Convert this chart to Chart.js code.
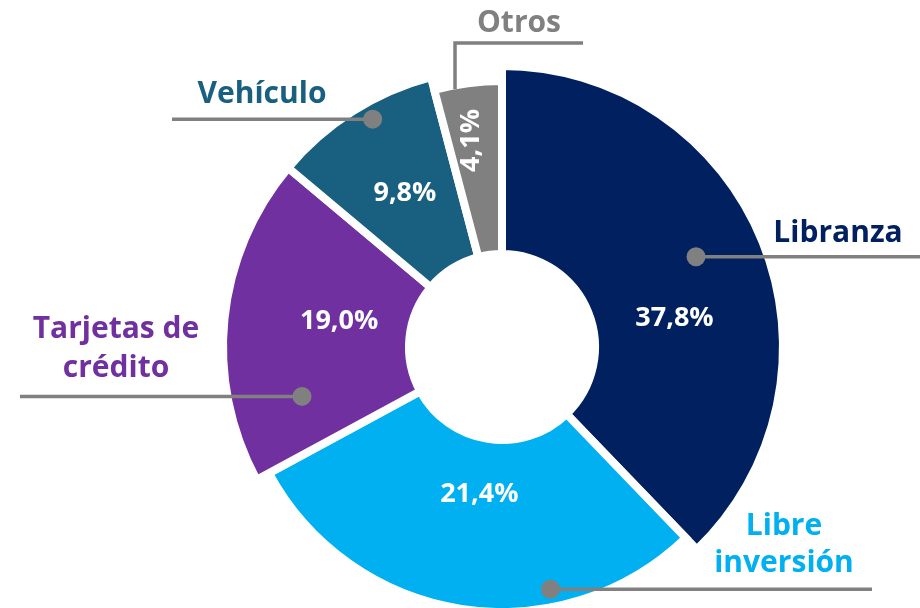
<!DOCTYPE html>
<html lang="es">
<head>
<meta charset="utf-8">
<title>Cartera por modalidad</title>
<script src="https://cdn.jsdelivr.net/npm/chart.js@4.4.1/dist/chart.umd.min.js"></script>
<style>
  html, body { margin: 0; padding: 0; background: #fff; overflow: hidden; }
  #contenedor { position: relative; width: 920px; height: 608px; }
</style>
</head>
<body>
<div id="contenedor"><canvas id="grafico"></canvas></div>
<script>
// datos del gráfico
const categorias = ["Libranza", "Libre inversión", "Tarjetas de crédito", "Vehículo", "Otros"];
const valores = [37.8, 29.3, 19.0, 9.8, 4.1];
const etiquetasPct = ["37,8%", "21,4%", "19,0%", "9,8%", "4,1%"];
const colores = ["#002060", "#00B0F0", "#7030A0", "#185F80", "#808080"];

// estilo: radio exterior de cada porción y lugar de los porcentajes (fracción del ángulo, radio)
const radioExterior = [281, 265, 279, 279, 266];
const posPct = [[0.59, 175], [0.5, 148], [0.55, 165], [0.51, 183], [0.4, 209]];

// llamadas con línea guía
const llamadas = [
  { ancla: [0.478, 214], finX: 920, lineas: ["Libranza"], x: 838, y: [242] },
  { ancla: [0.309, 247], finX: 872, lineas: ["Libre", "inversión"], x: 784, y: [535, 572] },
  { ancla: [0.213, 206], finX: 20, lineas: ["Tarjetas de", "crédito"], x: 116, y: [338, 377] },
  { ancla: [0.58, 262], finX: 172, lineas: ["Vehículo"], x: 262, y: [103] },
  { ancla: [0.30, 262], finX: 583, codoY: 43, sinPunto: true, lineas: ["Otros"], x: 519, y: [32] }
];

const GRIS = "#808080";

function polar(arc, frac, r) {
  const a = arc.startAngle + frac * (arc.endAngle - arc.startAngle);
  return { x: arc.x + r * Math.cos(a), y: arc.y + r * Math.sin(a) };
}

const ajusteRadios = {
  id: "ajusteRadios",
  afterDatasetUpdate(chart, args) {
    args.meta.data.forEach((arc, i) => { arc.outerRadius = radioExterior[i]; });
  }
};

const rotulos = {
  id: "rotulos",
  afterDraw(chart) {
    const ctx = chart.ctx;
    const arcos = chart.getDatasetMeta(0).data;
    ctx.save();

    // porcentajes dentro de las porciones
    ctx.fillStyle = "#fff";
    ctx.font = 'bold 27px "Open Sans"';
    ctx.textAlign = "center";
    ctx.textBaseline = "middle";
    arcos.forEach((arc, i) => {
      const p = polar(arc, posPct[i][0], posPct[i][1]);
      ctx.save();
      ctx.translate(p.x, p.y);
      if (i === 4) ctx.rotate(-Math.PI / 2);
      ctx.fillText(etiquetasPct[i], 0, 1);
      ctx.restore();
    });

    // líneas guía y nombres
    llamadas.forEach((c, i) => {
      const p = polar(arcos[i], c.ancla[0], c.ancla[1]);
      ctx.strokeStyle = GRIS;
      ctx.lineWidth = 3.5;
      ctx.beginPath();
      ctx.moveTo(p.x, p.y);
      if (c.codoY !== undefined) {
        ctx.lineTo(p.x, c.codoY);
        ctx.lineTo(c.finX, c.codoY);
      } else {
        ctx.lineTo(c.finX, p.y);
      }
      ctx.stroke();
      if (!c.sinPunto) {
        ctx.fillStyle = GRIS;
        ctx.beginPath();
        ctx.arc(p.x, p.y, 9.5, 0, Math.PI * 2);
        ctx.fill();
      }
      ctx.fillStyle = colores[i];
      ctx.font = 'bold 30px "Open Sans"';
      ctx.textAlign = "center";
      ctx.textBaseline = "alphabetic";
      c.lineas.forEach((t, k) => ctx.fillText(t, c.x, c.y[k]));
    });

    ctx.restore();
  }
};

new Chart(document.getElementById("grafico"), {
  type: "doughnut",
  data: {
    labels: categorias,
    datasets: [{
      data: valores,
      backgroundColor: colores,
      borderColor: "#ffffff",
      borderWidth: 8,
      borderJoinStyle: "miter",
      clip: false
    }]
  },
  options: {
    responsive: true,
    maintainAspectRatio: false,
    animation: false,
    events: [],
    radius: 281,
    cutout: "33.1%",
    layout: { padding: { left: 84, top: 86, right: 0, bottom: 0 } },
    plugins: {
      legend: { display: false },
      tooltip: { enabled: false }
    }
  },
  plugins: [ajusteRadios, rotulos]
});
</script>
</body>
</html>
